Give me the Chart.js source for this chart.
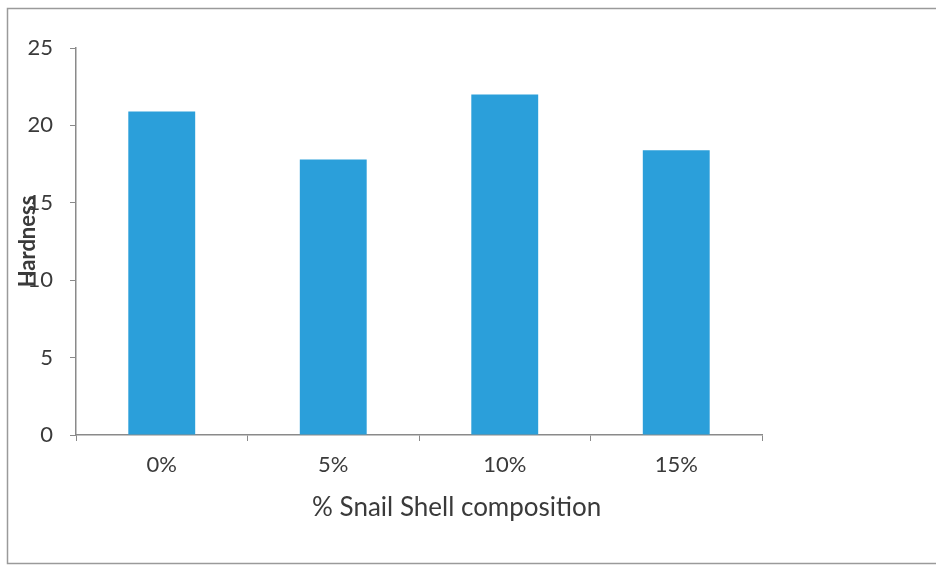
<!DOCTYPE html>
<html>
<head>
<meta charset="utf-8">
<script src="https://cdn.jsdelivr.net/npm/chart.js@4"></script>
<style>
  html, body { margin: 0; padding: 0; background: #ffffff; }
  #wrap { position: relative; width: 936px; height: 566px; }
</style>
</head>
<body>
<div id="wrap"><canvas id="chart" width="936" height="566"></canvas></div>
<script>
// Hardness against snail shell content
const categories = ['0%', '5%', '10%', '15%'];
const hardness = [20.9, 17.8, 22.0, 18.4];
const yTicks = [0, 5, 10, 15, 20, 25];
const xTitle = '% Snail Shell composition';
const yTitle = 'Hardness';

const AXIS_GREY = '#8a8a8a';
const TEXT = '#3a3a3a';
const BAR_BLUE = '#2b9fda';
const FONT = 'Lato, "Liberation Sans", sans-serif';

// thin frame around the whole figure
const framePlugin = {
  id: 'frame',
  beforeDraw(chart) {
    const ctx = chart.ctx;
    ctx.save();
    ctx.strokeStyle = '#9a9a9a';
    ctx.lineWidth = 1.5;
    ctx.beginPath();
    ctx.moveTo(chart.width + 2, 8.5);
    ctx.lineTo(7.5, 8.5);
    ctx.lineTo(7.5, 563.5);
    ctx.lineTo(chart.width + 2, 563.5);
    ctx.stroke();
    ctx.restore();
  }
};

// horizontal axis caption, set a little right of the plot centre
const xCaptionPlugin = {
  id: 'xCaption',
  afterDraw(chart) {
    const ctx = chart.ctx;
    const area = chart.chartArea;
    ctx.save();
    ctx.fillStyle = TEXT;
    ctx.font = '26px ' + FONT;
    ctx.textAlign = 'center';
    ctx.textBaseline = 'middle';
    ctx.fillText(xTitle, area.left + (area.right - area.left) * 0.555, area.bottom + 73);
    ctx.restore();
  }
};

new Chart(document.getElementById('chart'), {
  type: 'bar',
  data: {
    labels: categories,
    datasets: [{
      label: yTitle,
      data: hardness,
      backgroundColor: BAR_BLUE,
      borderWidth: 0,
      categoryPercentage: 1,
      barPercentage: 0.39
    }]
  },
  options: {
    responsive: false,
    animation: false,
    layout: { padding: { left: 0, right: 174, top: 48, bottom: 0 } },
    plugins: {
      legend: { display: false },
      tooltip: { enabled: false }
    },
    scales: {
      x: {
        grid: {
          offset: true,
          drawOnChartArea: false,
          drawTicks: true,
          tickLength: 6,
          color: AXIS_GREY
        },
        border: { display: true, color: AXIS_GREY, width: 1.5 },
        ticks: {
          color: TEXT,
          padding: 11,
          font: { family: FONT, size: 22 }
        },
        afterFit(scale) { scale.height = 131; }
      },
      y: {
        min: 0,
        max: 25,
        afterBuildTicks(scale) { scale.ticks = yTicks.map(v => ({ value: v })); },
        grid: {
          drawOnChartArea: false,
          drawTicks: true,
          tickLength: 6,
          color: AXIS_GREY
        },
        border: { display: true, color: AXIS_GREY, width: 1.5 },
        ticks: {
          color: TEXT,
          padding: 17,
          font: { family: FONT, size: 22 }
        },
        title: {
          display: true,
          text: yTitle,
          color: TEXT,
          font: { family: FONT, size: 22, weight: 'bold' },
          padding: { top: 15, bottom: 0 }
        },
        afterFit(scale) { scale.width = 76; }
      }
    }
  },
  plugins: [framePlugin, xCaptionPlugin]
});
</script>
</body>
</html>
